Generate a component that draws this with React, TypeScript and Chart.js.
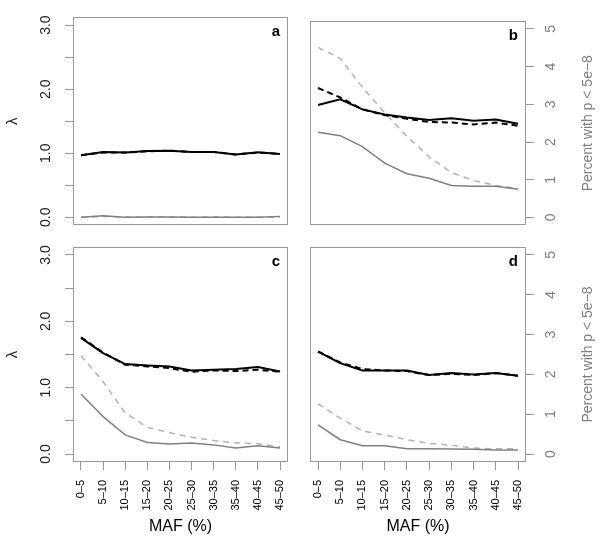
import React, { useEffect, useRef } from "react";
import { Chart, registerables } from "chart.js";
Chart.register(...registerables);

// ---------- data ----------
const MAF = ["0–5", "5–10", "10–15", "15–20", "20–25", "25–30", "30–35", "35–40", "40–45", "45–50"];
const LAMBDA_TICKS = [0, 0.5, 1, 1.5, 2, 2.5, 3];
const PCT_TICKS = [0, 1, 2, 3, 4, 5];

// panel a
const lamA_solid = [0.97, 1.02, 1.01, 1.035, 1.04, 1.02, 1.02, 0.98, 1.015, 0.99];
const lamA_dash = [0.97, 1.01, 1.01, 1.03, 1.04, 1.02, 1.02, 0.98, 1.01, 0.99];
const pctA_solid = [0.0, 0.04, 0.0, 0.01, 0.01, 0.0, 0.0, 0.0, 0.0, 0.02];
const pctA_dash = [0.0, 0.02, 0.01, 0.01, 0.01, 0.0, 0.01, 0.0, 0.0, 0.01];

// panel b
const lamB_solid = [1.79, 1.88, 1.72, 1.64, 1.59, 1.55, 1.58, 1.54, 1.56, 1.49];
const lamB_dash = [2.06, 1.91, 1.72, 1.63, 1.57, 1.52, 1.51, 1.48, 1.51, 1.46];
const pctB_solid = [2.26, 2.17, 1.88, 1.44, 1.16, 1.04, 0.85, 0.83, 0.83, 0.75];
const pctB_dash = [4.51, 4.22, 3.45, 2.78, 2.15, 1.61, 1.19, 0.98, 0.85, 0.77];

// panel c
const lamC_solid = [1.75, 1.52, 1.355, 1.335, 1.32, 1.26, 1.27, 1.28, 1.31, 1.245];
const lamC_dash = [1.76, 1.53, 1.345, 1.32, 1.295, 1.24, 1.26, 1.25, 1.27, 1.24];
const pctC_solid = [1.51, 0.94, 0.48, 0.29, 0.25, 0.28, 0.23, 0.15, 0.21, 0.15];
const pctC_dash = [2.47, 1.82, 1.03, 0.67, 0.54, 0.42, 0.34, 0.28, 0.26, 0.18];

// panel d
const lamD_solid = [1.545, 1.37, 1.26, 1.26, 1.26, 1.19, 1.22, 1.2, 1.22, 1.18];
const lamD_dash = [1.545, 1.38, 1.28, 1.26, 1.25, 1.19, 1.21, 1.19, 1.22, 1.18];
const pctD_solid = [0.73, 0.36, 0.21, 0.21, 0.13, 0.13, 0.125, 0.12, 0.1, 0.1];
const pctD_dash = [1.26, 0.9, 0.58, 0.48, 0.36, 0.27, 0.22, 0.15, 0.13, 0.13];

const Y_TITLE = "λ";
const X_TITLE = "MAF (%)";
const R_TITLE = "Percent with p < 5e−8";

// ---------- layout ----------
const W = 604;
const H = 541;
const FONT = "'Liberation Sans', Arial, Helvetica, sans-serif";
const BOX = "#999999";
const GRAY_TEXT = "#7f7f7f";

type PanelCfg = {
  letter: string;
  lamSolid: number[];
  lamDash: number[];
  pctSolid: number[];
  pctDash: number[];
  showLeft: boolean;
  showRight: boolean;
  showBottom: boolean;
  area: { l: number; t: number; r: number; b: number };
};

const PANELS: PanelCfg[] = [
  { letter: "a", lamSolid: lamA_solid, lamDash: lamA_dash, pctSolid: pctA_solid, pctDash: pctA_dash, showLeft: true, showRight: false, showBottom: false, area: { l: 73, t: 10, r: 288, b: 225 } },
  { letter: "b", lamSolid: lamB_solid, lamDash: lamB_dash, pctSolid: pctB_solid, pctDash: pctB_dash, showLeft: false, showRight: true, showBottom: false, area: { l: 310, t: 10, r: 526, b: 225 } },
  { letter: "c", lamSolid: lamC_solid, lamDash: lamC_dash, pctSolid: pctC_solid, pctDash: pctC_dash, showLeft: true, showRight: false, showBottom: true, area: { l: 73, t: 247, r: 288, b: 462 } },
  { letter: "d", lamSolid: lamD_solid, lamDash: lamD_dash, pctSolid: pctD_solid, pctDash: pctD_dash, showLeft: false, showRight: true, showBottom: true, area: { l: 310, t: 247, r: 526, b: 462 } },
];

const toXY = (arr: number[]) => arr.map((v, i) => ({ x: i, y: v }));

function Panel({ cfg }: { cfg: PanelCfg }) {
  const ref = useRef<HTMLCanvasElement>(null);

  useEffect(() => {
    if (!ref.current) return;
    const { l, t, r, b } = cfg.area;

    const decor = {
      id: "decor" + cfg.letter,
      afterDraw(chart: any) {
        const ctx = chart.ctx;
        const ca = chart.chartArea;
        ctx.save();
        ctx.strokeStyle = BOX;
        ctx.lineWidth = 1;
        const x0 = Math.round(ca.left) + 0.5;
        const y0 = Math.round(ca.top) + 0.5;
        const x1 = Math.round(ca.right) - 0.5;
        const y1 = Math.round(ca.bottom) - 0.5;
        ctx.strokeRect(x0, y0, x1 - x0, y1 - y0);
        ctx.fillStyle = "#000";
        ctx.font = "bold 15px " + FONT;
        ctx.textAlign = "right";
        ctx.textBaseline = "alphabetic";
        ctx.fillText(cfg.letter, ca.right - 8, ca.top + 19);
        if (cfg.showRight) {
          ctx.translate(588, (ca.top + ca.bottom) / 2);
          ctx.rotate(-Math.PI / 2);
          ctx.font = "14px " + FONT;
          ctx.fillStyle = GRAY_TEXT;
          ctx.textAlign = "center";
          ctx.textBaseline = "middle";
          ctx.fillText(R_TITLE, 0, 0);
        }
        ctx.restore();
      },
    };

    const tickGrid = { display: true, drawOnChartArea: false, drawTicks: true, tickLength: 8, color: BOX, lineWidth: 1 };

    const chart = new Chart(ref.current, {
      type: "line",
      data: {
        datasets: [
          { data: toXY(cfg.lamSolid), yAxisID: "y", borderColor: "#000", borderWidth: 2, pointRadius: 0, tension: 0 },
          { data: toXY(cfg.lamDash), yAxisID: "y", borderColor: "#000", borderWidth: 2, borderDash: [6, 4], pointRadius: 0, tension: 0 },
          { data: toXY(cfg.pctSolid), yAxisID: "y2", borderColor: "#808080", borderWidth: 1.5, pointRadius: 0, tension: 0 },
          { data: toXY(cfg.pctDash), yAxisID: "y2", borderColor: "#b3b3b3", borderWidth: 1.5, borderDash: [6, 5], pointRadius: 0, tension: 0 },
        ] as any,
      },
      options: {
        responsive: false,
        animation: false,
        events: [],
        devicePixelRatio: 1,
        layout: {
          autoPadding: false,
          padding: {
            left: cfg.showLeft ? 0 : l,
            right: cfg.showRight ? 0 : W - r,
            top: t,
            bottom: cfg.showBottom ? 0 : H - b,
          },
        },
        plugins: { legend: { display: false }, tooltip: { enabled: false } },
        scales: {
          x: {
            type: "linear",
            min: -0.36,
            max: 9.36,
            display: cfg.showBottom,
            position: "bottom",
            afterBuildTicks: (ax: any) => {
              ax.ticks = MAF.map((_, i) => ({ value: i }));
            },
            afterFit: (ax: any) => {
              ax.height = cfg.showBottom ? H - b : 0;
            },
            ticks: {
              autoSkip: false,
              minRotation: 90,
              maxRotation: 90,
              padding: 10,
              color: "#000",
              font: { family: FONT, size: 11 },
              callback: (v: any) => MAF[Math.round(Number(v))] ?? "",
            },
            grid: tickGrid,
            border: { display: false },
            title: { display: true, text: X_TITLE, color: "#000", font: { family: FONT, size: 16 }, padding: { top: 0, bottom: 5 } },
          },
          y: {
            type: "linear",
            min: -0.12,
            max: 3.12,
            display: cfg.showLeft,
            position: "left",
            afterBuildTicks: (ax: any) => {
              ax.ticks = LAMBDA_TICKS.map((v) => ({ value: v }));
            },
            afterFit: (ax: any) => {
              ax.width = cfg.showLeft ? l : 0;
            },
            ticks: {
              autoSkip: false,
              minRotation: 90,
              maxRotation: 90,
              crossAlign: "center",
              padding: 9,
              color: "#222",
              font: { family: FONT, size: 14 },
              callback: (v: any) => (Number.isInteger(Number(v)) ? Number(v).toFixed(1) : ""),
            },
            grid: tickGrid,
            border: { display: false },
            title: { display: true, text: Y_TITLE, color: "#222", font: { family: FONT, size: 15 }, padding: { top: 4, bottom: 0 } },
          },
          y2: {
            type: "linear",
            min: -0.2,
            max: 5.2,
            display: cfg.showRight,
            position: "right",
            afterBuildTicks: (ax: any) => {
              ax.ticks = PCT_TICKS.map((v) => ({ value: v }));
            },
            afterFit: (ax: any) => {
              ax.width = cfg.showRight ? W - r : 0;
            },
            ticks: {
              autoSkip: false,
              minRotation: 90,
              maxRotation: 90,
              crossAlign: "center",
              padding: 13,
              color: GRAY_TEXT,
              font: { family: FONT, size: 14 },
              callback: (v: any) => String(v),
            },
            grid: tickGrid,
            border: { display: false },
          },
        },
      } as any,
      plugins: [decor],
    });

    return () => chart.destroy();
  }, [cfg]);

  return (
    <canvas
      ref={ref}
      width={W}
      height={H}
      style={{ position: "absolute", left: 0, top: 0, width: W, height: H }}
    />
  );
}

export default function App() {
  return (
    <div style={{ position: "fixed", left: 0, top: 0, width: W, height: H, background: "#fff", overflow: "hidden" }}>
      {PANELS.map((p) => (
        <Panel key={p.letter} cfg={p} />
      ))}
    </div>
  );
}
